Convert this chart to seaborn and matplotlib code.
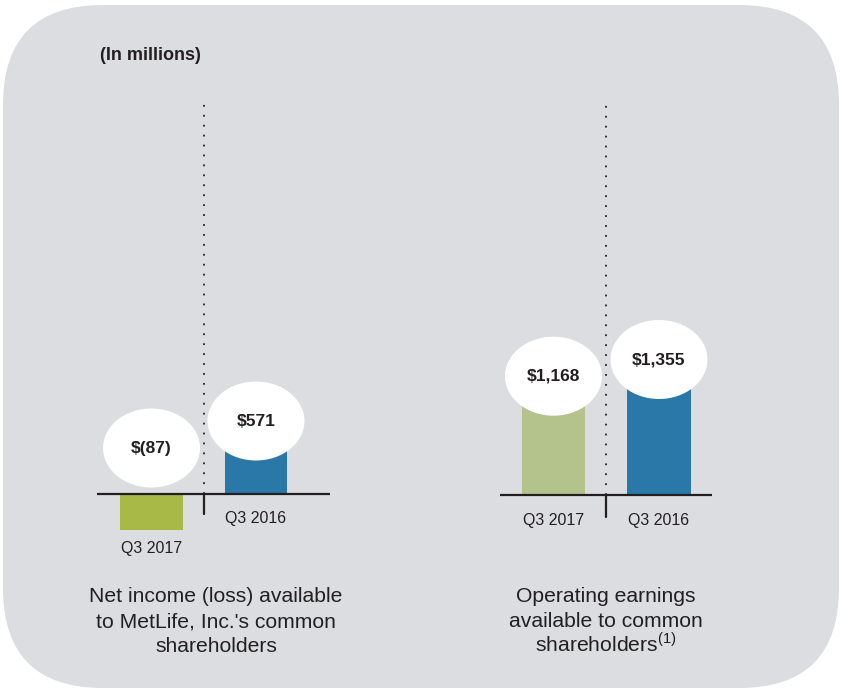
import numpy as np
import matplotlib
matplotlib.use("Agg")
import matplotlib.pyplot as plt
import matplotlib.transforms as mtransforms
from matplotlib.patches import Ellipse, FancyBboxPatch
import seaborn as sns
import pandas as pd

# Data (in millions)
periods = ["Q3 2017", "Q3 2016"]
net_income = [-87, 571]
operating_earnings = [1168, 1355]
net_income_labels = ["$(87)", "$571"]
operating_labels = ["$1,168", "$1,355"]
net_income_title = ["Net income (loss) available", "to MetLife, Inc.'s common", "shareholders"]
operating_title = ["Operating earnings", "available to common", r"shareholders$^{\mathrm{(1)}}$"]

sns.set_theme(style="white")
plt.rcParams["font.family"] = ["Liberation Sans", "DejaVu Sans"]
plt.rcParams["mathtext.fontset"] = "custom"
plt.rcParams["mathtext.rm"] = "Liberation Sans"

W, H = 845, 695
TXT = "#231f20"
BG = "#dcdde0"
NARROW = ["Liberation Sans Narrow", "Liberation Sans"]

fig = plt.figure(figsize=(W / 100, H / 100), dpi=100)
fig.patch.set_facecolor("white")

# background panel in pixel coordinates
bg = fig.add_axes([0, 0, 1, 1], zorder=0)
bg.set_xlim(0, W)
bg.set_ylim(H, 0)
bg.axis("off")
bg.add_patch(FancyBboxPatch((3, 5), 836, 683, boxstyle="round,pad=0,rounding_size=100",
                            facecolor=BG, edgecolor="none"))
bg.text(100, 56, "(In millions)", fontsize=13, fontweight="bold", color=TXT,
        ha="left", va="center")


def panel(x0, x1, zero_x, unit, zero_y, pos_px, neg_px, values, labels, colors,
          ell_dy, tick_len, title, title_x):
    ax = fig.add_axes([x0 / W, 1 - 540 / H, (x1 - x0) / W, 440 / H], zorder=1)
    ax.patch.set_alpha(0)
    df = pd.DataFrame({"period": periods, "value": values})
    sns.barplot(data=df, x="period", y="value", hue="period", palette=colors,
                width=0.6, saturation=1, legend=False, ax=ax, zorder=2,
                edgecolor="none", linewidth=0)

    # piecewise scale: value -> pixels above the zero line
    fwd = lambda y: np.where(np.asarray(y) < 0, np.asarray(y) * neg_px, np.asarray(y) * pos_px)
    inv = lambda p: np.where(np.asarray(p) < 0, np.asarray(p) / neg_px, np.asarray(p) / pos_px)
    ax.set_yscale("function", functions=(fwd, inv))
    top_px = zero_y - 100
    bot_px = zero_y - 540
    ax.set_ylim(float(inv(bot_px)), float(inv(top_px)))
    ax.set_xlim((x0 - zero_x) / unit, (x1 - zero_x) / unit)
    ax.axis("off")

    ax.axhline(0, color=TXT, lw=1.6, zorder=3)
    ax.plot([0.5, 0.5], [0, float(inv(top_px))], color=TXT, lw=1.3,
            ls=(0, (1, 4.5)), zorder=1)
    ax.plot([0.5, 0.5], [0, float(inv(-tick_len))], color=TXT, lw=1.6, zorder=3)

    for i, (v, lab) in enumerate(zip(values, labels)):
        anchor_y = max(v, 0)
        trans = fig.dpi_scale_trans + mtransforms.ScaledTranslation(i, anchor_y, ax.transData)
        ax.add_patch(Ellipse((0, ell_dy[i] / 100), 0.97, 0.79, transform=trans,
                             facecolor="white", edgecolor="none", zorder=4, clip_on=False))
        ax.annotate(lab, (i, anchor_y), xytext=(0, ell_dy[i]), textcoords="offset pixels",
                    ha="center", va="center", fontsize=12.5, fontweight="bold",
                    family=NARROW, color=TXT, zorder=5, annotation_clip=False)
        low = min(v, 0)
        off = -18 if v < 0 else -25
        ax.annotate(periods[i], (i, low), xytext=(0, off), textcoords="offset pixels",
                    ha="center", va="center", fontsize=11.5, family=NARROW, color=TXT,
                    annotation_clip=False)

    for k, line in enumerate(title):
        bg.text(title_x, 602 + 25 * k, line, fontsize=15.2, color=TXT,
                ha="center", va="baseline")


panel(97, 330, 151.5, 104.5, 494, 73 / 571, 36 / 87, net_income, net_income_labels,
      ["#a9b948", "#2a78a8"], [46, 0], 20, net_income_title, 216)
panel(500, 712, 553.5, 105.5, 495, 0.1, 0.1, operating_earnings, operating_labels,
      ["#b4c28b", "#2a78a8"], [2, 0], 22, operating_title, 606)

fig.savefig("out.png", dpi=100, facecolor="white")
